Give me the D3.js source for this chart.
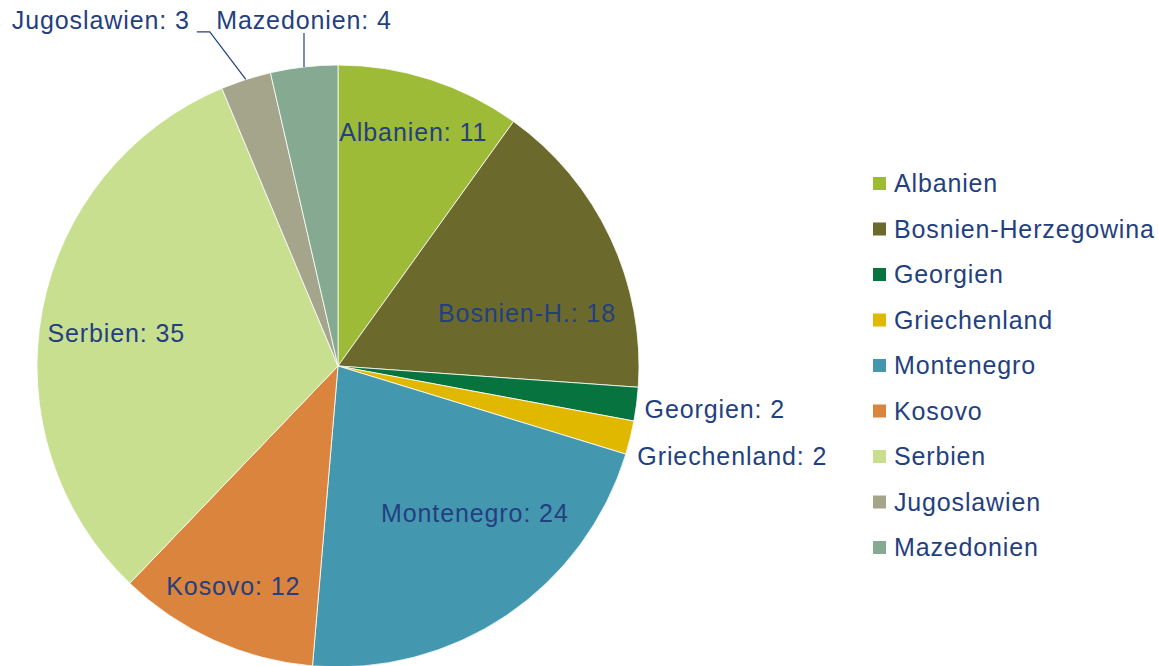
<!DOCTYPE html>
<html>
<head>
<meta charset="utf-8">
<script src="https://cdn.jsdelivr.net/npm/d3@7"></script>
<style>
  html, body { margin: 0; padding: 0; background: #ffffff; }
  svg { display: block; }
  text { font-family: "Liberation Sans", Arial, sans-serif; fill: #243F80; }
</style>
</head>
<body>
<svg id="chart" width="1159" height="666"></svg>
<script>
// ---- data ----
const categories = ["Albanien", "Bosnien-Herzegowina", "Georgien", "Griechenland", "Montenegro", "Kosovo", "Serbien", "Jugoslawien", "Mazedonien"];
const shortLabels = ["Albanien", "Bosnien-H.", "Georgien", "Griechenland", "Montenegro", "Kosovo", "Serbien", "Jugoslawien", "Mazedonien"];
const values = [11, 18, 2, 2, 24, 12, 35, 3, 4];
const colors = ["#9DBB36", "#6B6A2C", "#07733F", "#E1B800", "#4398B0", "#DB843D", "#C8DF8F", "#A5A58C", "#85AA91"];

// ---- layout ----
const W = 1159, H = 666;
const cx = 338, cy = 366, R = 301;
const fontSize = 25;

const svg = d3.select("#chart");
const g = svg.append("g").attr("transform", `translate(${cx},${cy})`);

const data = categories.map((c, i) => ({ name: c, label: shortLabels[i], value: values[i], color: colors[i] }));

const pie = d3.pie().value(d => d.value).sort(null);
const arcs = pie(data);
const arc = d3.arc().innerRadius(0).outerRadius(R);
const labelArc = d3.arc().innerRadius(R * 0.8).outerRadius(R * 0.8);

g.selectAll("path.slice")
  .data(arcs)
  .join("path")
  .attr("class", "slice")
  .attr("d", arc)
  .attr("fill", d => d.data.color)
  .attr("stroke", "#ffffff")
  .attr("stroke-width", 0.8);

function polar(a, r) { return [r * Math.sin(a), -r * Math.cos(a)]; }
function mid(d) { return (d.startAngle + d.endAngle) / 2; }

// inside label nudges (layout only)
const insideNudge = {
  "Albanien": [1.5, -4],
  "Bosnien-Herzegowina": [-29, 50],
  "Montenegro": [2, -52],
  "Kosovo": [-5.5, 1.4],
  "Serbien": [15, 12]
};
// outside label placement relative to slice edge point
const outsideLayout = {
  "Georgien": { anchor: "start", dx: 8, dy: 14 },
  "Griechenland": { anchor: "start", dx: 7, dy: 27 },
  "Jugoslawien": { anchor: "end", elbow: [-36, -47.5], tail: -13, dx: -56, dy: -50.5 },
  "Mazedonien": { anchor: "middle", elbow: [0, -34], dx: 0, dy: -38 }
};

arcs.forEach(d => {
  const txt = `${d.data.label}: ${d.data.value}`;
  if (insideNudge[d.data.name]) {
    const c = labelArc.centroid(d);
    const n = insideNudge[d.data.name];
    g.append("text")
      .attr("x", c[0] + n[0])
      .attr("y", c[1] + n[1])
      .attr("dy", "0.32em")
      .attr("text-anchor", "middle")
      .style("font-size", fontSize + "px")
      .style("letter-spacing", "0.9px")
      .text(txt);
  } else {
    const L = outsideLayout[d.data.name];
    const p = polar(mid(d), R);
    if (L.elbow) {
      const e = [p[0] + L.elbow[0], p[1] + L.elbow[1]];
      const pts = [p, e];
      if (L.tail) pts.push([e[0] + L.tail, e[1]]);
      g.append("path")
        .attr("d", d3.line()(pts))
        .attr("fill", "none")
        .attr("stroke", "#243F80")
        .attr("stroke-width", 1.2);
    }
    g.append("text")
      .attr("x", p[0] + L.dx)
      .attr("y", p[1] + L.dy)
      .attr("text-anchor", L.anchor)
      .style("font-size", fontSize + "px")
      .style("letter-spacing", "0.9px")
      .text(txt);
  }
});

// ---- legend ----
const legend = svg.append("g").attr("transform", "translate(873,177)");
const step = 45.5;
const items = legend.selectAll("g.item").data(data).join("g")
  .attr("class", "item")
  .attr("transform", (d, i) => `translate(0,${i * step})`);
items.append("rect").attr("width", 13).attr("height", 13).attr("fill", d => d.color);
items.append("text").attr("x", 21).attr("y", 15)
  .style("font-size", "25px")
  .style("letter-spacing", "0.85px")
  .text(d => d.name);
</script>
</body>
</html>
